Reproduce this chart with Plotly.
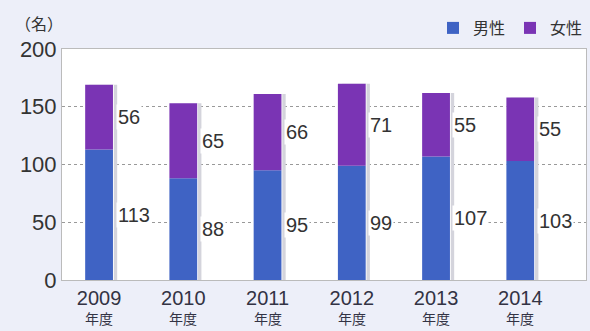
import plotly.graph_objects as go

years = ["2009", "2010", "2011", "2012", "2013", "2014"]
year_suffix = "年度"
male = [113, 88, 95, 99, 107, 103]
female = [56, 65, 66, 71, 55, 55]

xs = list(range(len(years)))
totals = [m + f for m, f in zip(male, female)]
BW = 0.33
FONT = "Noto Sans CJK JP"
NUM_FONT = "Liberation Sans"
PLOT_H = 331 - 49 - 51
PLOT_W = 590 - 62 - 4

fig = go.Figure()
# shadow
fig.add_trace(go.Bar(x=xs, y=totals, width=BW, offset=-BW / 2 + 0.05,
                     marker=dict(color="#d4d4dc", line=dict(width=0)),
                     showlegend=False, hoverinfo="skip"))
fig.add_trace(go.Bar(x=xs, y=totals, width=BW + 0.01, offset=-BW / 2,
                     marker=dict(color="white", line=dict(width=0)),
                     showlegend=False, hoverinfo="skip"))
fig.add_trace(go.Bar(name="男性", x=xs, y=male, width=BW, offset=-BW / 2,
                     marker=dict(color="#3f63c4", line=dict(width=0))))
fig.add_trace(go.Bar(name="女性", x=xs, y=female, base=male, width=BW, offset=-BW / 2,
                     marker=dict(color="#7a34b4", line=dict(width=0))))

for i, (m, f) in enumerate(zip(male, female)):
    fig.add_annotation(x=i + BW / 2 + 0.03, y=m / 2, text=str(m), showarrow=False,
                       xanchor="left", yanchor="middle",
                       font=dict(size=20, color="#333333", family=NUM_FONT), bgcolor="white")
    fig.add_annotation(x=i + BW / 2 + 0.03, y=m + f / 2, text=str(f), showarrow=False,
                       xanchor="left", yanchor="middle",
                       font=dict(size=20, color="#333333", family=NUM_FONT), bgcolor="white")
    fig.add_annotation(x=i, xref="x", yref="paper", y=-(318 - 280) / PLOT_H,
                       text=year_suffix, showarrow=False, xanchor="center", yanchor="middle",
                       font=dict(size=14, color="#333344", family=FONT))

fig.add_annotation(xref="paper", yref="paper", x=(39 - 62) / PLOT_W, y=(280 - 23) / PLOT_H,
                   text="（名）", showarrow=False, xanchor="center", yanchor="middle",
                   font=dict(size=16, color="#333333", family=FONT))

fig.update_layout(
    width=590, height=331,
    margin=dict(l=62, r=4, t=49, b=51, autoexpand=False),
    paper_bgcolor="#edeff9",
    plot_bgcolor="white",
    barmode="overlay",
    font=dict(family=FONT, color="#333333"),
    legend=dict(orientation="h", x=1 - 2 / 590, xref="container", y=1 - 11 / 331, yref="container",
                xanchor="right", yanchor="top",
                font=dict(size=16, color="#333333", family=FONT),
                bgcolor="rgba(0,0,0,0)", itemwidth=30, traceorder="normal"),
    showlegend=True,
)
fig.update_xaxes(range=[-0.44, 5.78], tickmode="array", tickvals=xs, ticktext=years,
                 showgrid=False, showline=True, mirror=True, linecolor="#bbbbbb",
                 ticks="",
                 tickfont=dict(size=20, color="#333344", family=NUM_FONT), zeroline=False)
fig.update_yaxes(range=[0, 200], tickvals=[0, 50, 100, 150, 200], showgrid=True,
                 gridcolor="#999999", griddash="dot", gridwidth=1,
                 showline=True, mirror=True, linecolor="#bbbbbb", zeroline=False,
                 ticks="", tickfont=dict(size=22, color="#333333", family=NUM_FONT))

fig.write_html("out.html")
